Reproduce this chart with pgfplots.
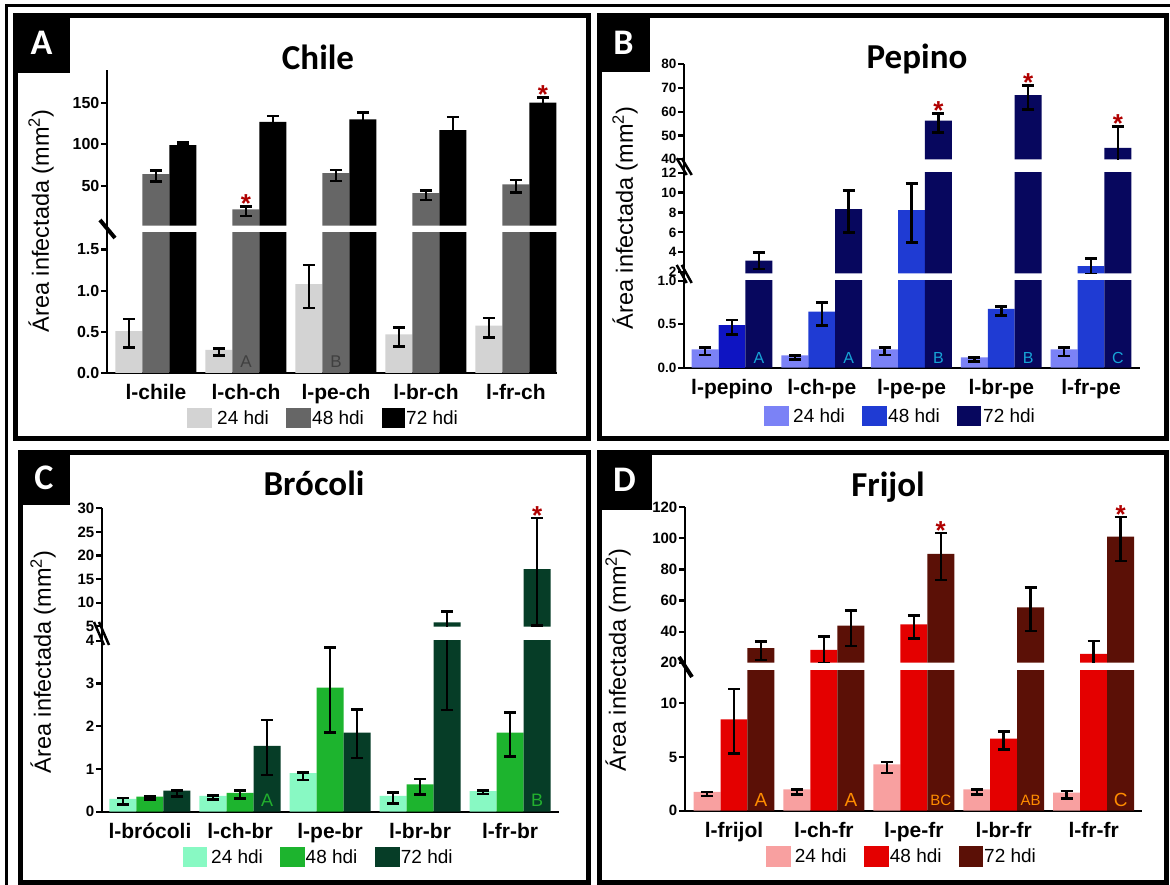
\documentclass[border=0pt]{standalone}
\usepackage{fontspec}
\setmainfont{Liberation Sans}
\newfontfamily\calib{Carlito}
\usepackage{pgfplots}
\pgfplotsset{compat=1.18}
\usepackage{pgfplotstable}

\definecolor{a1}{HTML}{D3D3D3}\definecolor{a2}{HTML}{666666}\definecolor{a3}{HTML}{000000}
\definecolor{b1}{HTML}{7B82F6}\definecolor{b2}{HTML}{1F3BD3}\definecolor{b3}{HTML}{07075E}
\definecolor{b2x}{HTML}{0E14C2}
\definecolor{c1}{HTML}{88F9C3}\definecolor{c2}{HTML}{1DB42E}\definecolor{c3}{HTML}{063D27}
\definecolor{d1}{HTML}{F8A0A0}\definecolor{d2}{HTML}{E40000}\definecolor{d3}{HTML}{5B1006}
\definecolor{starred}{HTML}{B00000}
\definecolor{lettB}{HTML}{17A3D6}
\definecolor{lettC}{HTML}{22B02E}
\definecolor{lettD}{HTML}{FF8C00}

% g: group; y1/p1/m1 = 24 hdi (value, +err, -err); y2.. = 48 hdi; y3.. = 72 hdi
\pgfplotstableread{
g y1 p1 m1 y2 p2 m2 y3 p3 m3
0 0.507 0.15 0.20 64 4 9 99 3 0.5
1 0.28 0.02 0.07 21.5 3.2 8 127 7 5
2 1.08 0.23 0.29 65 4 9.4 130 8 6
3 0.47 0.08 0.15 41 3 8 117 16 15
4 0.575 0.095 0.145 51.6 5.4 10 150 6.5 4
}\dataA
\pgfplotstableread{
g y1 p1 m1 y2 p2 m2 y3 p3 m3
0 0.21 0.025 0.064 0.49 0.06 0.107 3.15 0.85 0.85
1 0.142 0.0 0.045 0.646 0.104 0.16 8.35 1.85 2.35
2 0.21 0.025 0.064 8.23 2.67 3.25 56.2 3.1 5.0
3 0.12 0.0 0.05 0.677 0.027 0.077 66.9 4.1 5.9
4 0.21 0.025 0.075 2.6 0.8 0.8 44.8 8.9 8.9
}\dataB
\pgfplotstableread{
g y1 p1 m1 y2 p2 m2 y3 p3 m3
0 0.30 0.02 0.13 0.35 0.0 0.06 0.49 0.01 0.14
1 0.37 0.01 0.08 0.44 0.06 0.13 1.54 0.60 0.68
2 0.90 0.02 0.16 2.90 0.94 1.05 1.85 0.54 0.59
3 0.37 0.08 0.18 0.64 0.12 0.24 5.8 2.3 3.42
4 0.48 0.01 0.07 1.85 0.47 0.56 17.1 10.8 11.9
}\dataC
\pgfplotstableread{
g y1 p1 m1 y2 p2 m2 y3 p3 m3
0 1.76 0.0 0.40 8.49 2.83 3.18 29.4 4.3 7.7
1 1.98 0.0 0.45 28.2 8.5 8.5 43.8 9.7 12.9
2 4.32 0.22 0.80 44.7 5.6 9.0 90.0 13.3 16.7
3 1.98 0.0 0.45 6.70 0.68 0.99 55.6 12.7 15.2
4 1.67 0.18 0.53 25.6 8.4 8.4 101.1 12.5 15.6
}\dataD

\pgfplotsset{
  seg/.style={scale only axis, clip mode=individual, anchor=south west,
    axis y line*=left, axis line style={line width=2.2pt,black},
    ytick style={line width=2.2pt,black}, major tick length=6pt, tick align=outside,
    yticklabel style={font=\bfseries\fontsize{#1}{#1}\selectfont, inner sep=1.5pt},
    /pgf/number format/assume math mode=true, /pgf/number format/1000 sep={}},
  segtop/.style={seg=#1, axis x line=none},
  segbot/.style={seg=#1, axis x line*=bottom, xtick={0,1,2,3,4}, xtick style={draw=none},
    xticklabel style={font=\bfseries\fontsize{21}{21}\selectfont, inner sep=0pt, anchor=north, yshift=-5pt}},
  b/.style={ybar, bar width=0.3, bar shift=0pt, draw=none, fill=#1,
    error bars/y dir=both, error bars/y explicit,
    error bars/error bar style={line width=2.5pt,black},
    error bars/error mark options={rotate=90,line width=2.5pt,mark size=6pt,black}},
}
\tikzset{
  st/.style={text=starred, font=\bfseries\fontsize{26}{26}\selectfont, anchor=base, yshift=-6pt, inner sep=0pt},
  lg/.style={anchor=base west, inner sep=0pt, font=\fontsize{19}{19}\selectfont},
  ttl/.style={anchor=base, inner sep=0pt, font=\calib\bfseries\fontsize{35}{35}\selectfont},
  ylab/.style={rotate=90, inner sep=0pt, font=\fontsize{23.5}{23.5}\selectfont},
  pl/.style={text=white, font=\calib\bfseries\fontsize{36}{36}\selectfont, inner sep=0pt},
  lB/.style={text=lettB, font=\fontsize{16}{16}\selectfont},
}
% #1 offset, #2 colour, #3 series, #4 table, #5 clamp level (just above the segment's top), #6 segment bottom
\newcommand\onebar[6]{%
  \addplot[b=#2, restrict y to domain={#6}:{100000}] table[x expr={\thisrow{g}+#1},
    y expr={min(\thisrow{y#3},#5)},
    y error plus expr={max(min(\thisrow{y#3}+\thisrow{p#3},#5)-min(\thisrow{y#3},#5),0)},
    y error minus expr={min(\thisrow{y#3},#5)-min(\thisrow{y#3}-\thisrow{m#3},#5)}]{#4};}
\newcommand\threebars[6]{%
  \onebar{-0.3}{#2}{1}{#1}{#5}{#6}
  \onebar{0}{#3}{2}{#1}{#5}{#6}
  \onebar{0.3}{#4}{3}{#1}{#5}{#6}
}

\begin{document}
\begin{tikzpicture}[x=1pt,y=1pt]
\useasboundingbox (0pt,0pt) rectangle (1170pt,885pt);
\fill[white] (0pt,0pt) rectangle (1170pt,885pt);

% ---------------- Panel A : Chile ----------------
\begin{axis}[segbot=16, at={(107pt,512pt)}, width=450pt, height=140pt,
  xmin=-0.544, xmax=4.456, ymin=0, ymax=1.70, ytick={0,0.5,1,1.5},
  yticklabel style={/pgf/number format/fixed, /pgf/number format/fixed zerofill, /pgf/number format/precision=1},
  xticklabels={l-chile,l-ch-ch,l-pe-ch,l-br-ch,l-fr-ch}]
\threebars{\dataA}{a1}{a2}{a3}{3}{-1}
\node[text=black!75, font=\fontsize{17}{17}\selectfont] at (axis cs:1,0.14) {A};
\node[text=black!75, font=\fontsize{17}{17}\selectfont] at (axis cs:2,0.14) {B};
\end{axis}
\begin{axis}[segtop=16, at={(107pt,659.3pt)}, width=450pt, height=155.7pt,
  xmin=-0.544, xmax=4.456, ymin=1.8, ymax=189.4, ytick={50,100,150}]
\threebars{\dataA}{a1}{a2}{a3}{1000}{1.8}
\node[st] at (axis cs:1,24.7) {*};
\node[st] at (axis cs:4.3,156.5) {*};
\end{axis}

% ---------------- Panel B : Pepino ----------------
\begin{axis}[segbot=13.5, at={(684pt,517.3pt)}, width=456pt, height=86.7pt,
  xmin=-0.535, xmax=4.546, ymin=0, ymax=1, ytick={0,0.5,1},
  yticklabel style={/pgf/number format/fixed, /pgf/number format/fixed zerofill, /pgf/number format/precision=1},
  xticklabels={l-pepino,l-ch-pe,l-pe-pe,l-br-pe,l-fr-pe}]
\threebars{\dataB}{b1}{b2}{b3}{2}{-1}
\addplot[b=b2x] coordinates {(0,0.49) += (0,0.06) -= (0,0.107)};
\node[lB] at (axis cs:0.3,0.108) {A};
\node[lB] at (axis cs:1.3,0.108) {A};
\node[lB] at (axis cs:2.3,0.108) {B};
\node[lB] at (axis cs:3.3,0.108) {B};
\node[lB] at (axis cs:4.3,0.108) {C};
\end{axis}
\begin{axis}[segtop=13.5, at={(684pt,611.7pt)}, width=456pt, height=100.6pt,
  xmin=-0.535, xmax=4.546, ymin=1.89, ymax=12, ytick={2,4,...,12}]
\threebars{\dataB}{b1}{b2}{b3}{20}{1.89}
\end{axis}
\begin{axis}[segtop=13.5, at={(684pt,725.7pt)}, width=456pt, height=95.3pt,
  xmin=-0.535, xmax=4.546, ymin=40, ymax=80, ytick={40,50,...,80}]
\threebars{\dataB}{b1}{b2}{b3}{1000}{40}
\node[st] at (axis cs:2.3,59.3) {*};
\node[st] at (axis cs:3.3,71) {*};
\node[st] at (axis cs:4.3,53.7) {*};
\end{axis}

% ---------------- Panel C : Brocoli ----------------
\begin{axis}[segbot=15, at={(102pt,73.3pt)}, width=456.7pt, height=171pt,
  xmin=-0.533, xmax=4.54, ymin=0, ymax=4, ytick={0,1,2,3,4},
  xticklabels={l-brócoli,l-ch-br,l-pe-br,l-br-br,l-fr-br}]
\threebars{\dataC}{c1}{c2}{c3}{8}{-1}
\node[text=lettC, font=\fontsize{18}{18}\selectfont] at (axis cs:1.3,0.27) {A};
\node[text=lettC, font=\fontsize{18}{18}\selectfont] at (axis cs:4.3,0.27) {B};
\end{axis}
\begin{axis}[segtop=15, at={(102pt,258.3pt)}, width=456.7pt, height=118.4pt,
  xmin=-0.533, xmax=4.54, ymin=4.9, ymax=30, ytick={5,10,...,30}]
\threebars{\dataC}{c1}{c2}{c3}{1000}{4.9}
\node[st] at (axis cs:4.3,27.9) {*};
\end{axis}

% ---------------- Panel D : Frijol ----------------
\begin{axis}[segbot=15, at={(685pt,74.3pt)}, width=457pt, height=139.7pt,
  xmin=-0.545, xmax=4.538, ymin=0, ymax=13, ytick={0,5,10},
  xticklabels={l-frijol,l-ch-fr,l-pe-fr,l-br-fr,l-fr-fr}]
\threebars{\dataD}{d1}{d2}{d3}{26}{-1}
\node[text=lettD, font=\fontsize{19}{19}\selectfont] at (axis cs:0.3,1.0) {A};
\node[text=lettD, font=\fontsize{19}{19}\selectfont] at (axis cs:1.3,1.0) {A};
\node[text=lettD, font=\fontsize{15}{15}\selectfont] at (axis cs:2.3,1.0) {BC};
\node[text=lettD, font=\fontsize{15}{15}\selectfont] at (axis cs:3.3,1.0) {AB};
\node[text=lettD, font=\fontsize{19}{19}\selectfont] at (axis cs:4.3,1.0) {C};
\end{axis}
\begin{axis}[segtop=15, at={(685pt,222.3pt)}, width=457pt, height=155.4pt,
  xmin=-0.545, xmax=4.538, ymin=20, ymax=120, ytick={20,40,...,120}]
\threebars{\dataD}{d1}{d2}{d3}{1000}{20}
\node[st] at (axis cs:2.3,103.3) {*};
\node[st] at (axis cs:4.3,113.6) {*};
\end{axis}

% ---------------- axis connectors and break marks ----------------
\draw[line width=2.2pt] (107,652) -- (107,659.3);
\draw[line width=2.2pt] (684,604) -- (684,611.7);
\draw[line width=2.2pt] (684,712.3) -- (684,725.7);
\draw[line width=2.2pt] (102,244.3) -- (102,258.3);
\draw[line width=2.2pt] (685,214) -- (685,222.3);
\draw[line width=4pt] (100,665) -- (115,647);
\draw[line width=2.5pt] (676.7,726.7) -- (686.7,710) (681.7,726.7) -- (691.7,710);
\draw[line width=2.5pt] (676.7,620) -- (686.7,602) (681.7,620) -- (691.7,602);
\draw[line width=2.5pt] (94,263) -- (104,240) (99,263) -- (109,240);
\draw[line width=4pt] (679,228) -- (692,208);

% ---------------- frames, panel letters, titles ----------------
\draw[line width=3pt] (6.5,0) -- (6.5,879.5) -- (1170,879.5);
\draw[line width=5pt] (15.5,869.5) rectangle (588,446.5);
\draw[line width=5pt] (599.5,869.5) rectangle (1166.5,446.5);
\draw[line width=5pt] (20.5,432.5) rectangle (588,2.5);
\draw[line width=5pt] (599.5,432.5) rectangle (1166.5,2.5);
\fill[black] (13,872) rectangle (70,812);
\fill[black] (597,872) rectangle (650,813);
\fill[black] (18,435) rectangle (70,380);
\fill[black] (597,435) rectangle (652,375);
\node[pl] at (41.5,842) {A};
\node[pl] at (623.5,842.5) {B};
\node[pl] at (44,407.5) {C};
\node[pl] at (624.5,405) {D};
\node[ttl] at (318,815) {Chile};
\node[ttl] at (917,816.7) {Pepino};
\node[ttl] at (314,389) {Brócoli};
\node[ttl] at (888,388.3) {Frijol};

% ---------------- y labels ----------------
\node[ylab] at (41,664) {Área infectada (mm\textsuperscript{2})};
\node[ylab] at (625,667) {Área infectada (mm\textsuperscript{2})};
\node[ylab] at (43,223) {Área infectada (mm\textsuperscript{2})};
\node[ylab] at (618,225) {Área infectada (mm\textsuperscript{2})};

% ---------------- legends ----------------
\fill[a1] (187,457) rectangle (212,477); \node[lg] at (217,460) {24 hdi};
\fill[a2] (286,457) rectangle (311,477); \node[lg] at (312,460) {48 hdi};
\fill[a3] (381.5,457) rectangle (405,477); \node[lg] at (406,460) {72 hdi};

\fill[b1] (764,459) rectangle (789,479); \node[lg] at (793,462) {24 hdi};
\fill[b2] (862,459) rectangle (887,479); \node[lg] at (888,462) {48 hdi};
\fill[b3] (957,459) rectangle (981,479); \node[lg] at (983,462) {72 hdi};

\fill[c1] (182.5,17.7) rectangle (207,38.3); \node[lg] at (211,21.7) {24 hdi};
\fill[c2] (280,17.7) rectangle (305,38.3); \node[lg] at (305.5,21.7) {48 hdi};
\fill[c3] (375,17.7) rectangle (399.5,38.3); \node[lg] at (400.7,21.7) {72 hdi};

\fill[d1] (766,18) rectangle (791,39); \node[lg] at (794.6,22) {24 hdi};
\fill[d2] (864,18) rectangle (889,39); \node[lg] at (889.7,22) {48 hdi};
\fill[d3] (959,18) rectangle (983,39); \node[lg] at (984,22) {72 hdi};
\end{tikzpicture}
\end{document}
